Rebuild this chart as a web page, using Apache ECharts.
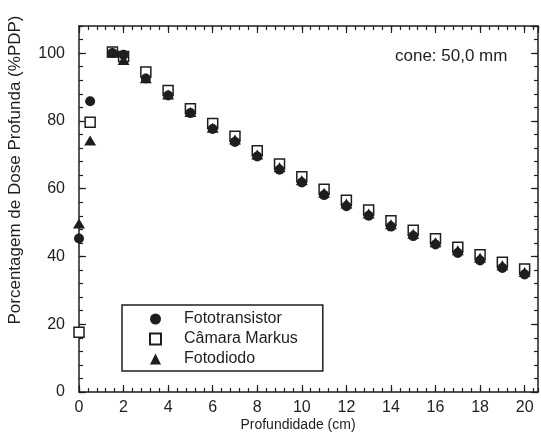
<!DOCTYPE html>
<html>
<head>
<meta charset="utf-8">
<script src="https://cdn.jsdelivr.net/npm/echarts@6/dist/echarts.min.js"></script>
<style>
  html, body { margin: 0; padding: 0; background: #fff; }
  #chart { width: 541px; height: 436px; }
</style>
</head>
<body>
<div id="chart"></div>
<script>
const depth = [0, 0.5, 1.5, 2, 3, 4, 5, 6, 7, 8, 9, 10, 11, 12, 13, 14, 15, 16, 17, 18, 19, 20];
const fototransistor = [45.3, 85.8, 100, 99.5, 92.5, 87.5, 82.3, 77.6, 73.8, 69.5, 65.6, 61.8, 58.1, 54.8, 52, 48.8, 46, 43.5, 41, 38.8, 36.6, 34.7];
const camaraMarkus = [17.6, 79.6, 100.3, 99, 94.4, 89, 83.6, 79.2, 75.5, 71.2, 67.3, 63.5, 59.8, 56.6, 53.7, 50.5, 47.7, 45.2, 42.7, 40.5, 38.3, 36.3];
const fotodiodo = [49.7, 74.2, 100.2, 98, 92.6, 87.8, 82.6, 78, 74.5, 70.1, 66.3, 62.5, 58.8, 55.6, 52.7, 49.5, 46.7, 44.2, 41.8, 39.6, 37.4, 35.4];
const seriesNames = ['Fototransistor', 'Câmara Markus', 'Fotodiodo'];

const ink = '#1e1e1e';
const font = "'Liberation Sans', Arial, sans-serif";

const pairs = (ys) => depth.map((d, i) => [d, ys[i]]);

// one axis per side for the long ticks, one for the short ticks
function xAx(position, interval, tickLen, labels, line) {
    return {
        type: 'value', position: position, min: 0, max: 20.6, interval: interval,
        axisLine: { show: line, onZero: false, lineStyle: { color: ink, width: 1.5 } },
        axisTick: { show: true, inside: true, length: tickLen, lineStyle: { color: ink, width: 1.2 } },
        axisLabel: { show: labels, showMaxLabel: false, color: ink, fontSize: 16, fontFamily: font, margin: 8 },
        splitLine: { show: false }
    };
}
function yAx(position, interval, tickLen, labels, line) {
    return {
        type: 'value', position: position, min: 0, max: 108, interval: interval,
        axisLine: { show: line, onZero: false, lineStyle: { color: ink, width: 1.5 } },
        axisTick: { show: true, inside: true, length: tickLen, lineStyle: { color: ink, width: 1.2 } },
        axisLabel: { show: labels, showMaxLabel: false, color: ink, fontSize: 16, fontFamily: font, margin: 14 },
        splitLine: { show: false }
    };
}

const option = {
    backgroundColor: '#fff',
    animation: false,
    grid: { left: 79, right: 3, top: 26, bottom: 44, outerBoundsMode: 'none' },
    xAxis: [
        xAx('bottom', 2, 7, true, true),
        xAx('bottom', 0.4, 4, false, false),
        xAx('top', 2, 7, false, true),
        xAx('top', 0.4, 4, false, false)
    ],
    yAxis: [
        yAx('left', 20, 7, true, true),
        yAx('left', 4, 4, false, false),
        yAx('right', 20, 7, false, true),
        yAx('right', 4, 4, false, false)
    ],
    legend: {
        data: seriesNames,
        orient: 'vertical',
        left: 122,
        top: 305,
        itemWidth: 11,
        itemHeight: 11,
        itemGap: 4,
        padding: [6, 25, 4, 27],
        borderColor: ink,
        borderWidth: 1.5,
        borderRadius: 0,
        backgroundColor: '#fff',
        textStyle: { color: ink, fontSize: 16, fontFamily: font, padding: [0, 0, 0, 18] }
    },
    graphic: [
        {
            type: 'text', x: 395, y: 56,
            style: { text: 'cone: 50,0 mm', fill: ink, font: '17px ' + font, textVerticalAlign: 'middle' }
        },
        {
            type: 'text', x: 298, y: 425,
            style: { text: 'Profundidade (cm)', fill: ink, font: '14px ' + font, textAlign: 'center', textVerticalAlign: 'middle' }
        },
        {
            type: 'text', x: 15, y: 170, rotation: Math.PI / 2,
            style: { text: 'Porcentagem de Dose Profunda (%PDP)', fill: ink, font: '17px ' + font, textAlign: 'center', textVerticalAlign: 'middle' }
        }
    ],
    series: [
        {
            name: seriesNames[0], type: 'scatter', z: 3,
            symbol: 'circle', symbolSize: 10,
            itemStyle: { color: ink, opacity: 1 },
            data: pairs(fototransistor)
        },
        {
            name: seriesNames[1], type: 'scatter', z: 2,
            symbol: 'rect', symbolSize: 10,
            itemStyle: { color: '#fff', borderColor: ink, borderWidth: 1.5, opacity: 1 },
            data: pairs(camaraMarkus)
        },
        {
            name: seriesNames[2], type: 'scatter', z: 4,
            symbol: 'triangle', symbolSize: [12, 10],
            itemStyle: { color: ink, opacity: 1 },
            data: pairs(fotodiodo)
        }
    ]
};

const chart = echarts.init(document.getElementById('chart'), null, { renderer: 'canvas' });
chart.setOption(option);
</script>
</body>
</html>
